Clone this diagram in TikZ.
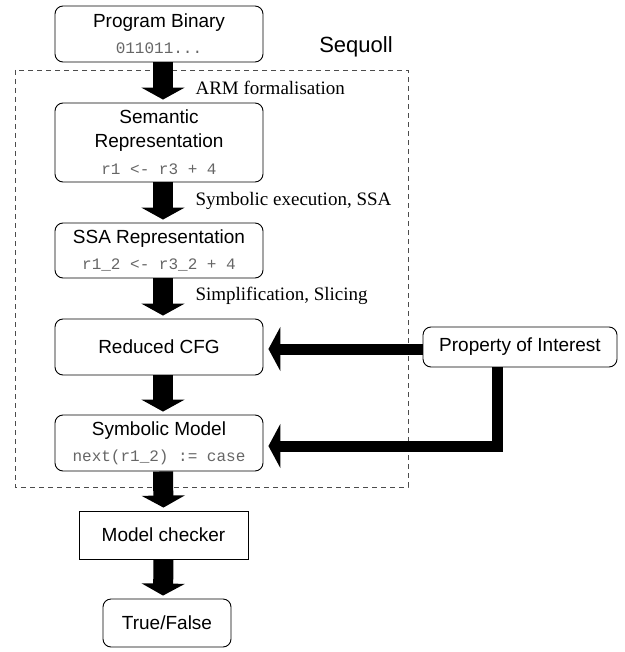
\documentclass[tikz,border=0pt]{standalone}
\usepackage{fontspec}
\setmainfont{Liberation Serif}
\setsansfont{Liberation Sans}
\setmonofont{Liberation Mono}
\usetikzlibrary{arrows.meta}
\definecolor{codegray}{gray}{0.4}
\definecolor{framegray}{gray}{0.3}
\newcommand\codeline[1]{{\ttfamily\fontsize{16}{20}\selectfont\color{codegray}#1}}
\tikzset{
  block/.style={
    draw, rounded corners=8pt, line width=0.9pt,
    minimum width=208pt, align=center, inner sep=2pt,
    font=\sffamily\fontsize{19}{24}\selectfont
  },
  plain block/.style={block, rounded corners=0pt},
  big arrow/.style={
    line width=20pt, -{Triangle[width=43pt,length=12pt]},
    shorten >=3pt
  },
  side arrow/.style={
    line width=11pt, -{Triangle[width=44pt,length=12pt]},
    shorten >=5pt
  },
  step label/.style={anchor=west, font=\fontsize{19}{22}\selectfont}
}
\begin{document}
\begin{tikzpicture}[x=1pt, y=-1pt]
  \useasboundingbox (0,0) rectangle (624,652);
  % Sequoll frame
  \draw[framegray, line width=0.8pt, dash pattern=on 5pt off 4pt] (15,70) rectangle (408,487);
  \node[font=\sffamily\fontsize{22}{26}\selectfont] (seq) at (356,47) {Sequoll};

  \node[block, minimum height=56pt] (bin) at (159,34) {Program Binary\\[2pt]\codeline{011011...}};
  \node[block, minimum height=79pt] (sem) at (159,142.5) {Semantic\\Representation\\[3pt]\codeline{r1 <- r3 + 4}};
  \node[block, minimum height=55pt] (ssa) at (159,250.5) {SSA Representation\\[2pt]\codeline{r1\_2 <- r3\_2 + 4}};
  \node[block, minimum height=56pt] (cfg) at (159,347) {Reduced CFG};
  \node[block, minimum height=56pt] (symb) at (159,443) {Symbolic Model\\[2pt]\codeline{next(r1\_2) := case}};
  \node[plain block, minimum width=169pt, minimum height=48pt] (mc) at (163.5,535) {Model checker};
  \node[block, minimum width=128pt, minimum height=48pt] (tf) at (167,623) {True/False};
  \node[block, minimum width=194pt, minimum height=40pt] (poi) at (520,347) {Property of Interest};

  \draw[big arrow] ([xshift=4pt]bin.south) -- ([xshift=4pt]sem.north);
  \draw[big arrow] ([xshift=4pt]sem.south) -- ([xshift=4pt]ssa.north);
  \draw[big arrow] ([xshift=4pt]ssa.south) -- ([xshift=4pt]cfg.north);
  \draw[big arrow] ([xshift=4pt]cfg.south) -- ([xshift=4pt]symb.north);
  \draw[big arrow] ([xshift=4pt]symb.south) -- (mc.north);
  \draw[big arrow] (mc.south) -- ([xshift=-4pt]tf.north);

  \node[step label] (arm) at (192,88) {ARM formalisation};
  \node[step label] (symex) at (192,201) {Symbolic execution, SSA};
  \node[step label] (slice) at (192,296) {Simplification, Slicing};

  \draw[side arrow] ([yshift=-2pt]poi.west) -- ([yshift=-2pt]cfg.east);
  \draw[side arrow] ([xshift=-23pt]poi.south) |- ([yshift=-3pt]symb.east);
\end{tikzpicture}
\end{document}
